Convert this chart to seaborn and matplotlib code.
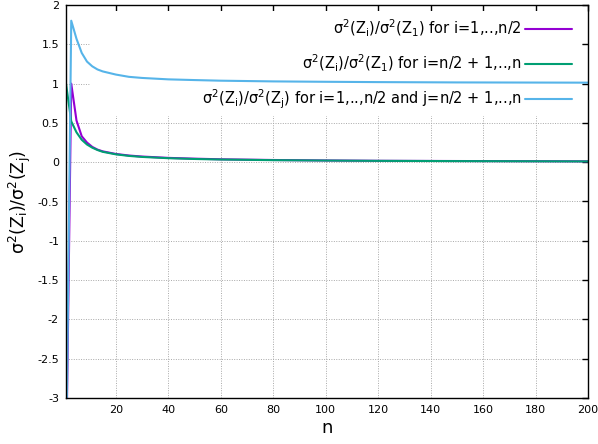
import matplotlib
matplotlib.use("Agg")
import matplotlib.pyplot as plt
from matplotlib.patches import Rectangle
from matplotlib.ticker import FuncFormatter
import pandas as pd
import seaborn as sns

# Sample sizes n at which the variance ratios are evaluated
n_values = [1, 3, 5, 7, 9, 11, 13, 15, 20, 25, 30, 40, 50, 60, 80, 100, 120, 150, 200]

# sigma^2(Z_i)/sigma^2(Z_1), i = 1..n/2
ratio_first_half = [-4.0, 1.0, 0.53, 0.33, 0.25, 0.195, 0.16, 0.138, 0.105, 0.085,
                    0.072, 0.055, 0.045, 0.037, 0.028, 0.022, 0.018, 0.015, 0.011]
# sigma^2(Z_i)/sigma^2(Z_1), i = n/2+1..n
ratio_second_half = [1.0, 0.52, 0.38, 0.285, 0.225, 0.185, 0.155, 0.132, 0.100, 0.080,
                     0.067, 0.051, 0.041, 0.034, 0.026, 0.021, 0.017, 0.014, 0.010]
# sigma^2(Z_i)/sigma^2(Z_j), i in first half, j in second half
ratio_cross = [-4.0, 1.80, 1.57, 1.39, 1.28, 1.22, 1.18, 1.155, 1.115, 1.086,
               1.072, 1.054, 1.045, 1.037, 1.028, 1.023, 1.019, 1.015, 1.012]

series_labels = [
    "σ$^2$(Z$_i$)/σ$^2$(Z$_1$) for i=1,..,n/2",
    "σ$^2$(Z$_i$)/σ$^2$(Z$_1$) for i=n/2 + 1,..,n",
    "σ$^2$(Z$_i$)/σ$^2$(Z$_j$) for i=1,..,n/2 and j=n/2 + 1,..,n",
]
series_colors = ["#9400d3", "#009e73", "#56b4e9"]

x_ticks = [20, 40, 60, 80, 100, 120, 140, 160, 180, 200]
y_ticks = [-3, -2.5, -2, -1.5, -1, -0.5, 0, 0.5, 1, 1.5, 2]

frames = []
for label, vals in zip(series_labels, [ratio_first_half, ratio_second_half, ratio_cross]):
    frames.append(pd.DataFrame({"n": n_values, "ratio": vals, "series": label}))
df = pd.concat(frames, ignore_index=True)

sns.set_style("white")
plt.rcParams["font.family"] = ["DejaVu Sans"]
plt.rcParams["mathtext.default"] = "regular"
plt.rcParams["axes.unicode_minus"] = False
plt.rcParams["text.color"] = "black"
plt.rcParams["axes.labelcolor"] = "black"

W, H = 598, 444
fig = plt.figure(figsize=(W / 100, H / 100), dpi=100)
ax = fig.add_axes([66 / W, 46 / H, 522 / W, 393 / H])

sns.lineplot(data=df, x="n", y="ratio", hue="series", hue_order=series_labels,
             palette=series_colors, linewidth=1.5, legend=False, ax=ax,
             estimator=None, sort=False)

ax.set_xlim(1, 200)
ax.set_ylim(-3, 2)
ax.set_xticks(x_ticks)
ax.set_yticks(y_ticks)
ax.xaxis.set_major_formatter(FuncFormatter(lambda v, p: "%g" % v))
ax.yaxis.set_major_formatter(FuncFormatter(lambda v, p: "%g" % v))
ax.tick_params(direction="in", length=4, width=1, top=True, right=True,
               labelsize=8, colors="black", pad=5)
ax.grid(True, color="#a8a8a8", linestyle=(0, (1, 1.5)), linewidth=0.7)
for s in ax.spines.values():
    s.set_color("black")
    s.set_linewidth(1.0)

ax.set_xlabel("n", fontsize=13, labelpad=3)
ax.set_ylabel("σ$^2$(Z$_i$)/σ$^2$(Z$_j$)", fontsize=12.5, labelpad=3)

# opaque key area above the grid but below the curves
ax.add_patch(Rectangle((90 / W, 1 - 116 / H), (582 - 90) / W, (116 - 11) / H,
                       transform=fig.transFigure, facecolor="white",
                       edgecolor="none", zorder=1.6))

leg = ax.legend(ax.get_lines()[:3], series_labels, loc="upper right",
                bbox_to_anchor=(572 / W, 1 - 18 / H), bbox_transform=fig.transFigure,
                frameon=False, markerfirst=False, fontsize=10.5,
                handlelength=3.2, handletextpad=0.25, labelspacing=0.95,
                borderpad=0, borderaxespad=0)

fig.savefig("out.png", dpi=100)
